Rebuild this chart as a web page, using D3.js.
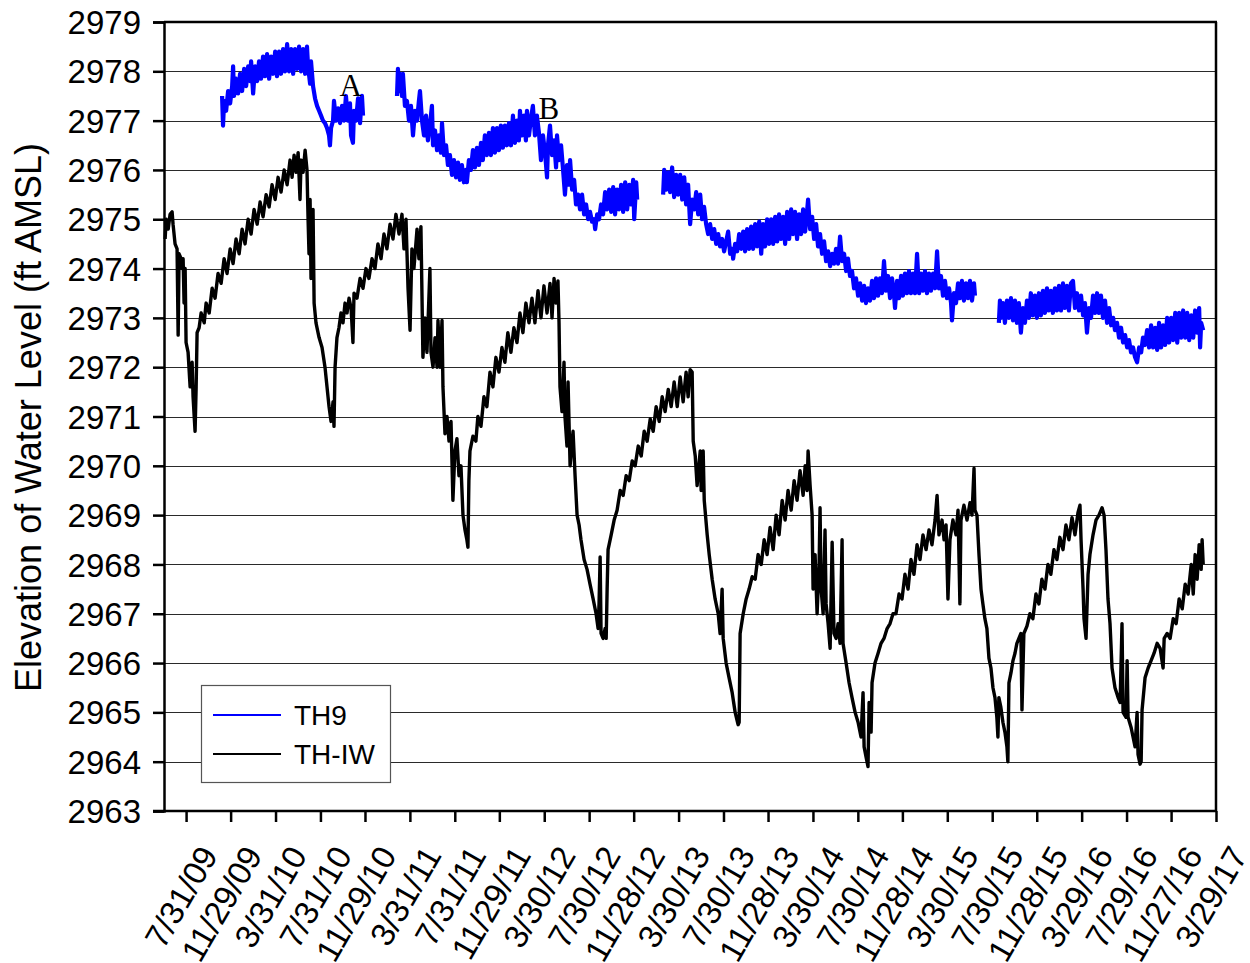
<!DOCTYPE html>
<html><head><meta charset="utf-8">
<script src="https://cdn.jsdelivr.net/npm/d3@7"></script>
<style>body{margin:0;background:#fff}</style></head>
<body>
<svg id="chart" width="1250" height="963"></svg>
<script>
// ---------- DATA ----------
const yTicks = d3.range(2963, 2980);
const xTickLabels = ["7/31/09","11/29/09","3/31/10","7/31/10","11/29/10","3/31/11","7/31/11","11/29/11","3/30/12","7/30/12","11/28/12","3/30/13","7/30/13","11/28/13","3/30/14","7/30/14","11/28/14","3/30/15","7/30/15","11/28/15","3/29/16","7/29/16","11/27/16","3/29/17"];
const seriesNames = ["TH9", "TH-IW"];
const annotations = [["A", 2010.72, 2977.5], ["B", 2012.20, 2977.03]];

// [decimal year, elevation ft AMSL]; null = no data
const th9 = [
[2009.846,2977.5],[2009.853,2976.9],[2009.861,2977.4],[2009.876,2977.2],[2009.891,2977.6],[2009.906,2977.35],[2009.921,2977.7],[2009.928,2978.1],[2009.935,2977.5],[2009.950,2977.85],[2009.965,2977.55],[2009.980,2977.95],[2009.995,2977.6],[2010.010,2978.05],[2010.025,2977.7],[2010.040,2978.1],[2010.055,2977.8],[2010.062,2978.2],[2010.077,2977.55],[2010.092,2978.1],[2010.107,2977.8],[2010.121,2978.2],[2010.136,2977.85],[2010.151,2978.3],[2010.166,2977.9],[2010.181,2978.35],[2010.196,2977.85],[2010.211,2978.3],[2010.226,2977.95],[2010.241,2978.4],[2010.255,2977.9],[2010.270,2978.4],[2010.285,2977.95],[2010.300,2978.45],[2010.315,2978.0],[2010.330,2978.55],[2010.345,2978.0],[2010.360,2978.45],[2010.375,2977.95],[2010.389,2978.45],[2010.404,2978.05],[2010.419,2978.5],[2010.434,2978.0],[2010.449,2978.45],[2010.464,2977.95],[2010.478,2978.5],[2010.486,2978.1],[2010.501,2977.75],[2010.508,2978.2],[2010.523,2977.7],[2010.538,2977.45],[2010.553,2977.3],[2010.568,2977.2],[2010.583,2977.1],[2010.597,2977.0],[2010.612,2976.95],[2010.627,2976.85],[2010.642,2976.7],[2010.649,2976.5],[2010.657,2976.85],[2010.672,2977.0],[2010.679,2977.4],[2010.694,2977.0],[2010.709,2977.25],[2010.724,2976.95],[2010.739,2977.3],[2010.754,2977.0],[2010.768,2977.5],[2010.783,2977.0],[2010.798,2977.35],[2010.806,2976.7],[2010.820,2976.55],[2010.828,2977.2],[2010.843,2977.0],[2010.858,2977.45],[2010.873,2976.95],[2010.887,2977.5],[2010.895,2977.1],
[2011.0,null],
[2011.148,2977.5],[2011.155,2978.05],[2011.163,2977.6],[2011.170,2977.95],[2011.185,2977.5],[2011.192,2977.95],[2011.207,2977.3],[2011.222,2977.4],[2011.237,2977.0],[2011.252,2977.3],[2011.267,2976.7],[2011.282,2977.2],[2011.297,2977.0],[2011.311,2977.4],[2011.319,2977.6],[2011.334,2977.0],[2011.349,2976.7],[2011.364,2977.1],[2011.378,2976.6],[2011.393,2976.9],[2011.408,2977.3],[2011.416,2976.5],[2011.431,2976.8],[2011.446,2976.4],[2011.460,2976.7],[2011.475,2976.35],[2011.483,2976.95],[2011.498,2976.3],[2011.513,2976.5],[2011.527,2976.1],[2011.542,2976.3],[2011.557,2975.9],[2011.572,2976.2],[2011.587,2975.85],[2011.602,2976.15],[2011.616,2975.8],[2011.631,2976.1],[2011.646,2975.75],[2011.661,2976.0],[2011.668,2975.75],[2011.683,2976.2],[2011.698,2976.0],[2011.713,2976.4],[2011.728,2976.05],[2011.743,2976.45],[2011.758,2976.1],[2011.773,2976.55],[2011.787,2976.2],[2011.802,2976.7],[2011.817,2976.3],[2011.832,2976.75],[2011.847,2976.3],[2011.862,2976.85],[2011.877,2976.35],[2011.892,2976.85],[2011.907,2976.4],[2011.921,2976.9],[2011.936,2976.45],[2011.951,2976.9],[2011.966,2976.5],[2011.981,2976.95],[2011.996,2976.5],[2012.011,2977.1],[2012.026,2976.55],[2012.041,2977.0],[2012.055,2976.6],[2012.063,2977.2],[2012.078,2976.7],[2012.093,2977.1],[2012.107,2976.6],[2012.115,2977.2],[2012.130,2976.7],[2012.145,2977.05],[2012.159,2977.3],[2012.174,2976.7],[2012.189,2977.1],[2012.204,2976.75],[2012.219,2976.2],[2012.234,2976.7],[2012.249,2976.35],[2012.264,2975.85],[2012.271,2976.5],[2012.286,2976.9],[2012.301,2976.3],[2012.316,2976.6],[2012.331,2976.05],[2012.338,2976.7],[2012.353,2976.2],[2012.368,2976.5],[2012.383,2976.0],[2012.397,2975.5],[2012.412,2976.1],[2012.427,2975.7],[2012.435,2976.2],[2012.450,2975.6],[2012.465,2975.8],[2012.479,2975.3],[2012.494,2975.5],[2012.509,2975.2],[2012.524,2975.5],[2012.539,2975.1],[2012.554,2975.3],[2012.569,2975.0],[2012.583,2975.15],[2012.598,2974.95],[2012.613,2975.0],[2012.621,2974.8],[2012.636,2975.1],[2012.650,2975.0],[2012.665,2975.3],[2012.680,2975.1],[2012.695,2975.55],[2012.710,2975.2],[2012.725,2975.6],[2012.740,2975.15],[2012.755,2975.65],[2012.769,2975.1],[2012.784,2975.6],[2012.799,2975.2],[2012.814,2975.7],[2012.829,2975.15],[2012.844,2975.75],[2012.859,2975.2],[2012.874,2975.7],[2012.888,2975.3],[2012.903,2975.8],[2012.911,2975.0],[2012.926,2975.75],[2012.933,2975.4],
[2013.03,null],
[2013.126,2975.5],[2013.134,2976.0],[2013.149,2975.6],[2013.164,2975.95],[2013.178,2975.55],[2013.193,2976.05],[2013.208,2975.45],[2013.223,2975.9],[2013.238,2975.5],[2013.253,2975.9],[2013.268,2975.4],[2013.283,2975.85],[2013.297,2975.3],[2013.312,2975.7],[2013.327,2974.9],[2013.342,2975.4],[2013.357,2975.2],[2013.372,2975.55],[2013.387,2975.1],[2013.402,2975.5],[2013.416,2975.0],[2013.431,2975.25],[2013.446,2974.9],[2013.461,2974.7],[2013.476,2974.9],[2013.491,2974.6],[2013.506,2974.8],[2013.521,2974.5],[2013.536,2974.7],[2013.550,2974.45],[2013.565,2974.6],[2013.580,2974.35],[2013.595,2974.55],[2013.610,2974.75],[2013.625,2974.3],[2013.640,2974.4],[2013.647,2974.2],[2013.662,2974.5],[2013.677,2974.35],[2013.692,2974.7],[2013.707,2974.4],[2013.722,2974.75],[2013.736,2974.35],[2013.751,2974.8],[2013.766,2974.4],[2013.781,2974.85],[2013.796,2974.4],[2013.811,2974.9],[2013.826,2974.45],[2013.841,2974.95],[2013.856,2974.3],[2013.870,2974.9],[2013.885,2974.45],[2013.900,2975.0],[2013.915,2974.5],[2013.930,2975.0],[2013.945,2974.5],[2013.960,2975.05],[2013.975,2974.55],[2013.989,2975.1],[2014.004,2974.6],[2014.019,2975.05],[2014.034,2974.5],[2014.049,2975.15],[2014.064,2974.6],[2014.079,2975.2],[2014.093,2974.7],[2014.108,2975.15],[2014.123,2974.6],[2014.138,2975.1],[2014.153,2974.7],[2014.168,2975.2],[2014.183,2974.75],[2014.197,2975.15],[2014.205,2975.4],[2014.220,2974.8],[2014.235,2975.05],[2014.250,2974.6],[2014.265,2974.9],[2014.279,2974.45],[2014.294,2974.7],[2014.309,2974.3],[2014.324,2974.55],[2014.339,2974.15],[2014.354,2974.35],[2014.369,2974.05],[2014.384,2974.3],[2014.398,2974.1],[2014.413,2974.4],[2014.428,2974.1],[2014.443,2974.65],[2014.458,2974.15],[2014.473,2974.3],[2014.488,2973.95],[2014.502,2974.2],[2014.517,2973.85],[2014.532,2973.95],[2014.547,2973.6],[2014.562,2973.8],[2014.577,2973.45],[2014.592,2973.7],[2014.607,2973.35],[2014.622,2973.65],[2014.636,2973.3],[2014.651,2973.6],[2014.666,2973.35],[2014.681,2973.75],[2014.696,2973.4],[2014.711,2973.8],[2014.726,2973.45],[2014.740,2973.8],[2014.755,2973.5],[2014.770,2974.15],[2014.785,2973.55],[2014.800,2973.85],[2014.815,2973.4],[2014.830,2973.8],[2014.845,2973.45],[2014.852,2973.2],[2014.867,2973.75],[2014.882,2973.4],[2014.897,2973.85],[2014.911,2973.45],[2014.926,2973.9],[2014.941,2973.5],[2014.956,2973.95],[2014.971,2973.5],[2014.986,2973.9],[2015.001,2973.5],[2015.016,2974.3],[2015.031,2973.5],[2015.045,2973.9],[2015.060,2973.55],[2015.075,2973.95],[2015.090,2973.5],[2015.105,2973.9],[2015.120,2973.55],[2015.135,2973.9],[2015.150,2973.6],[2015.165,2974.35],[2015.179,2973.6],[2015.194,2973.85],[2015.209,2973.45],[2015.224,2973.75],[2015.239,2973.4],[2015.254,2973.6],[2015.269,2973.3],[2015.276,2972.95],[2015.291,2973.5],[2015.306,2973.3],[2015.321,2973.7],[2015.335,2973.4],[2015.350,2973.75],[2015.365,2973.35],[2015.380,2973.7],[2015.395,2973.4],[2015.410,2973.75],[2015.425,2973.35],[2015.440,2973.7],[2015.447,2973.45],
[2015.53,null],
[2015.625,2972.9],[2015.633,2973.35],[2015.640,2973.0],[2015.655,2973.3],[2015.670,2972.9],[2015.685,2973.35],[2015.700,2973.0],[2015.715,2973.4],[2015.730,2972.95],[2015.745,2973.35],[2015.759,2972.9],[2015.774,2973.3],[2015.789,2972.7],[2015.804,2973.2],[2015.819,2972.9],[2015.834,2973.35],[2015.849,2973.0],[2015.863,2973.5],[2015.878,2973.05],[2015.893,2973.45],[2015.908,2973.0],[2015.923,2973.5],[2015.938,2973.05],[2015.953,2973.55],[2015.968,2973.1],[2015.983,2973.6],[2015.997,2973.15],[2016.012,2973.55],[2016.027,2973.1],[2016.042,2973.6],[2016.057,2973.15],[2016.072,2973.65],[2016.087,2973.15],[2016.102,2973.7],[2016.116,2973.2],[2016.131,2973.65],[2016.146,2973.15],[2016.161,2973.7],[2016.176,2973.75],[2016.191,2973.2],[2016.206,2973.5],[2016.221,2973.15],[2016.236,2973.45],[2016.251,2973.05],[2016.265,2973.3],[2016.280,2972.7],[2016.295,2973.2],[2016.310,2973.0],[2016.325,2973.45],[2016.340,2973.1],[2016.355,2973.5],[2016.369,2973.1],[2016.384,2973.45],[2016.399,2973.0],[2016.414,2973.35],[2016.429,2972.9],[2016.444,2973.2],[2016.459,2972.85],[2016.474,2973.0],[2016.488,2972.75],[2016.503,2972.9],[2016.518,2972.6],[2016.533,2972.8],[2016.548,2972.5],[2016.563,2972.65],[2016.578,2972.4],[2016.592,2972.55],[2016.607,2972.3],[2016.622,2972.4],[2016.637,2972.2],[2016.652,2972.1],[2016.667,2972.4],[2016.682,2972.3],[2016.696,2972.6],[2016.711,2972.45],[2016.726,2972.75],[2016.741,2972.4],[2016.756,2972.85],[2016.771,2972.4],[2016.786,2972.8],[2016.801,2972.35],[2016.815,2972.9],[2016.830,2972.4],[2016.845,2972.85],[2016.860,2972.45],[2016.875,2973.0],[2016.890,2972.5],[2016.905,2973.0],[2016.920,2972.55],[2016.935,2973.1],[2016.950,2972.5],[2016.964,2973.1],[2016.979,2972.6],[2016.994,2973.15],[2017.009,2972.6],[2017.024,2973.1],[2017.039,2972.55],[2017.054,2973.05],[2017.069,2972.6],[2017.083,2973.15],[2017.098,2972.7],[2017.113,2973.2],[2017.120,2972.4],[2017.128,2972.9],[2017.143,2972.75]
];

const thiw = [
[2009.422,2974.6],[2009.430,2975.0],[2009.445,2974.8],[2009.459,2975.1],[2009.474,2975.15],[2009.481,2974.9],[2009.496,2974.5],[2009.511,2974.4],[2009.519,2972.65],[2009.526,2974.3],[2009.541,2974.2],[2009.549,2974.0],[2009.556,2974.2],[2009.563,2973.3],[2009.571,2974.0],[2009.578,2972.5],[2009.593,2972.3],[2009.608,2971.6],[2009.623,2972.1],[2009.630,2971.4],[2009.645,2970.7],[2009.653,2971.6],[2009.660,2972.7],[2009.675,2972.8],[2009.690,2973.1],[2009.713,2972.9],[2009.727,2973.3],[2009.750,2973.1],[2009.772,2973.6],[2009.794,2973.4],[2009.816,2973.9],[2009.839,2973.7],[2009.861,2974.2],[2009.883,2973.9],[2009.906,2974.4],[2009.928,2974.1],[2009.950,2974.6],[2009.973,2974.3],[2009.995,2974.8],[2010.017,2974.5],[2010.040,2975.0],[2010.062,2974.7],[2010.084,2975.2],[2010.107,2974.9],[2010.129,2975.35],[2010.151,2975.05],[2010.174,2975.5],[2010.196,2975.25],[2010.218,2975.7],[2010.241,2975.4],[2010.263,2975.85],[2010.285,2975.55],[2010.308,2976.0],[2010.330,2975.7],[2010.352,2976.2],[2010.367,2975.85],[2010.382,2976.3],[2010.397,2975.95],[2010.412,2976.35],[2010.426,2975.4],[2010.434,2976.2],[2010.449,2975.95],[2010.464,2976.4],[2010.478,2976.0],[2010.486,2975.0],[2010.493,2974.3],[2010.501,2975.4],[2010.508,2973.8],[2010.523,2975.2],[2010.531,2973.3],[2010.545,2972.9],[2010.568,2972.6],[2010.590,2972.4],[2010.612,2972.0],[2010.627,2971.6],[2010.642,2971.2],[2010.657,2970.9],[2010.672,2971.3],[2010.679,2970.8],[2010.687,2972.0],[2010.701,2972.6],[2010.716,2972.8],[2010.731,2973.1],[2010.746,2972.9],[2010.761,2973.3],[2010.776,2973.1],[2010.791,2973.4],[2010.806,2973.2],[2010.820,2972.5],[2010.828,2973.5],[2010.850,2973.4],[2010.873,2973.8],[2010.895,2973.6],[2010.917,2974.0],[2010.939,2973.8],[2010.962,2974.2],[2010.984,2974.0],[2011.006,2974.5],[2011.029,2974.2],[2011.051,2974.7],[2011.073,2974.4],[2011.096,2974.9],[2011.118,2974.6],[2011.140,2975.1],[2011.163,2974.7],[2011.185,2975.1],[2011.200,2974.4],[2011.215,2975.0],[2011.230,2973.6],[2011.245,2972.75],[2011.259,2974.4],[2011.274,2974.0],[2011.297,2974.8],[2011.311,2974.2],[2011.326,2974.85],[2011.341,2972.2],[2011.356,2973.0],[2011.371,2972.3],[2011.393,2974.0],[2011.401,2972.3],[2011.416,2972.0],[2011.431,2972.6],[2011.446,2972.0],[2011.453,2972.95],[2011.468,2972.0],[2011.483,2972.95],[2011.490,2971.6],[2011.505,2970.65],[2011.520,2971.0],[2011.535,2970.5],[2011.550,2970.9],[2011.564,2969.3],[2011.579,2970.3],[2011.594,2970.55],[2011.609,2969.8],[2011.624,2970.0],[2011.639,2969.0],[2011.654,2968.7],[2011.668,2968.5],[2011.676,2968.35],[2011.683,2969.7],[2011.691,2970.3],[2011.713,2970.6],[2011.735,2970.5],[2011.750,2971.0],[2011.773,2970.8],[2011.795,2971.4],[2011.817,2971.2],[2011.840,2971.9],[2011.862,2971.6],[2011.884,2972.2],[2011.907,2971.9],[2011.929,2972.4],[2011.951,2972.1],[2011.973,2972.7],[2011.996,2972.3],[2012.018,2972.8],[2012.041,2972.5],[2012.063,2973.1],[2012.085,2972.7],[2012.107,2973.3],[2012.130,2972.9],[2012.152,2973.4],[2012.174,2972.9],[2012.197,2973.55],[2012.219,2973.0],[2012.241,2973.65],[2012.264,2973.1],[2012.286,2973.7],[2012.301,2973.0],[2012.316,2973.8],[2012.331,2973.3],[2012.345,2973.75],[2012.353,2972.9],[2012.360,2971.6],[2012.375,2971.1],[2012.390,2972.1],[2012.397,2971.0],[2012.412,2970.4],[2012.420,2971.7],[2012.435,2970.0],[2012.450,2970.5],[2012.457,2970.7],[2012.472,2969.8],[2012.487,2969.0],[2012.502,2968.8],[2012.516,2968.5],[2012.539,2968.1],[2012.561,2967.9],[2012.583,2967.6],[2012.606,2967.3],[2012.628,2967.0],[2012.643,2966.7],[2012.650,2967.2],[2012.658,2968.15],[2012.665,2966.6],[2012.680,2966.5],[2012.695,2966.7],[2012.703,2966.5],[2012.710,2967.5],[2012.717,2968.3],[2012.740,2968.6],[2012.762,2968.9],[2012.784,2969.1],[2012.807,2969.5],[2012.829,2969.4],[2012.851,2969.8],[2012.874,2969.7],[2012.896,2970.1],[2012.918,2970.0],[2012.941,2970.4],[2012.963,2970.2],[2012.985,2970.7],[2013.007,2970.5],[2013.030,2970.95],[2013.052,2970.7],[2013.074,2971.2],[2013.097,2970.9],[2013.119,2971.4],[2013.141,2971.1],[2013.164,2971.55],[2013.186,2971.2],[2013.208,2971.7],[2013.231,2971.2],[2013.253,2971.8],[2013.275,2971.3],[2013.297,2971.9],[2013.312,2971.4],[2013.327,2971.95],[2013.342,2971.9],[2013.350,2970.5],[2013.365,2970.2],[2013.379,2969.6],[2013.402,2970.3],[2013.409,2969.5],[2013.424,2970.3],[2013.432,2969.3],[2013.454,2968.6],[2013.469,2968.2],[2013.491,2967.7],[2013.513,2967.3],[2013.536,2967.0],[2013.550,2966.6],[2013.565,2967.5],[2013.573,2966.5],[2013.595,2966.0],[2013.617,2965.7],[2013.640,2965.4],[2013.662,2965.0],[2013.684,2964.75],[2013.692,2964.8],[2013.699,2966.6],[2013.722,2967.0],[2013.744,2967.3],[2013.766,2967.5],[2013.789,2967.75],[2013.811,2967.7],[2013.833,2968.2],[2013.856,2968.0],[2013.878,2968.5],[2013.900,2968.2],[2013.922,2968.75],[2013.945,2968.3],[2013.967,2969.0],[2013.989,2968.6],[2014.012,2969.3],[2014.034,2968.9],[2014.056,2969.5],[2014.079,2969.1],[2014.101,2969.7],[2014.123,2969.3],[2014.145,2969.9],[2014.168,2969.4],[2014.183,2970.0],[2014.197,2969.5],[2014.205,2970.3],[2014.220,2969.6],[2014.235,2969.0],[2014.242,2967.5],[2014.257,2968.2],[2014.272,2967.0],[2014.287,2968.0],[2014.294,2969.15],[2014.302,2967.5],[2014.317,2967.0],[2014.331,2968.7],[2014.339,2967.2],[2014.354,2966.8],[2014.369,2966.3],[2014.384,2968.45],[2014.398,2966.6],[2014.413,2966.5],[2014.428,2966.8],[2014.443,2966.4],[2014.458,2968.5],[2014.465,2966.4],[2014.488,2966.0],[2014.510,2965.6],[2014.532,2965.3],[2014.555,2965.0],[2014.577,2964.8],[2014.599,2964.5],[2014.614,2965.4],[2014.622,2964.3],[2014.636,2964.1],[2014.651,2963.9],[2014.659,2965.2],[2014.674,2964.6],[2014.681,2965.6],[2014.703,2966.0],[2014.726,2966.2],[2014.748,2966.4],[2014.770,2966.5],[2014.793,2966.7],[2014.815,2966.8],[2014.837,2967.0],[2014.859,2967.0],[2014.882,2967.4],[2014.904,2967.3],[2014.926,2967.8],[2014.949,2967.5],[2014.971,2968.1],[2014.993,2967.8],[2015.016,2968.4],[2015.038,2968.1],[2015.060,2968.6],[2015.083,2968.3],[2015.105,2968.7],[2015.127,2968.4],[2015.150,2968.9],[2015.165,2969.4],[2015.179,2968.6],[2015.202,2968.9],[2015.217,2968.5],[2015.232,2968.8],[2015.246,2967.3],[2015.261,2968.5],[2015.283,2968.9],[2015.306,2968.6],[2015.321,2969.1],[2015.335,2967.2],[2015.343,2968.9],[2015.365,2969.2],[2015.388,2968.9],[2015.410,2969.25],[2015.425,2969.0],[2015.440,2969.95],[2015.447,2969.1],[2015.462,2969.0],[2015.477,2968.2],[2015.492,2967.5],[2015.506,2967.2],[2015.521,2966.9],[2015.536,2966.7],[2015.551,2966.1],[2015.566,2965.9],[2015.581,2965.5],[2015.596,2965.3],[2015.610,2964.9],[2015.618,2964.5],[2015.625,2965.3],[2015.640,2965.1],[2015.655,2964.8],[2015.670,2964.6],[2015.685,2964.3],[2015.692,2964.0],[2015.700,2965.6],[2015.715,2965.8],[2015.730,2966.05],[2015.745,2966.2],[2015.759,2966.4],[2015.774,2966.5],[2015.789,2966.6],[2015.797,2965.05],[2015.811,2966.6],[2015.834,2966.75],[2015.856,2967.0],[2015.878,2966.9],[2015.901,2967.4],[2015.923,2967.2],[2015.945,2967.7],[2015.968,2967.5],[2015.990,2968.0],[2016.012,2967.8],[2016.035,2968.3],[2016.057,2968.1],[2016.079,2968.55],[2016.102,2968.3],[2016.124,2968.8],[2016.146,2968.5],[2016.169,2968.95],[2016.191,2968.6],[2016.213,2969.05],[2016.228,2969.2],[2016.236,2968.5],[2016.251,2967.5],[2016.258,2966.9],[2016.273,2966.5],[2016.288,2967.8],[2016.302,2968.2],[2016.325,2968.6],[2016.347,2968.9],[2016.369,2969.0],[2016.392,2969.15],[2016.407,2969.0],[2016.421,2968.3],[2016.436,2967.3],[2016.451,2966.8],[2016.466,2965.9],[2016.488,2965.5],[2016.511,2965.3],[2016.526,2965.2],[2016.540,2966.8],[2016.548,2965.0],[2016.570,2964.9],[2016.578,2966.05],[2016.585,2964.9],[2016.607,2964.7],[2016.622,2964.5],[2016.637,2964.3],[2016.652,2965.0],[2016.659,2964.15],[2016.674,2963.95],[2016.682,2964.0],[2016.689,2965.05],[2016.711,2965.7],[2016.734,2965.9],[2016.756,2966.05],[2016.778,2966.2],[2016.801,2966.4],[2016.823,2966.3],[2016.845,2965.9],[2016.853,2966.5],[2016.875,2966.6],[2016.897,2966.5],[2016.920,2966.9],[2016.942,2966.8],[2016.964,2967.3],[2016.987,2967.1],[2017.009,2967.6],[2017.031,2967.4],[2017.054,2968.0],[2017.069,2967.4],[2017.083,2968.2],[2017.098,2967.7],[2017.113,2968.4],[2017.128,2967.9],[2017.135,2968.5],[2017.143,2968.0]
];

// ---------- CHART ----------
const W = 1250, H = 963;
const M = {left: 164, right: 1216, top: 22, bottom: 811};
const FONT = "'Liberation Sans', Arial, sans-serif";

function decYear(y) {
  const yr = Math.floor(y);
  const a = Date.UTC(yr, 0, 1), b = Date.UTC(yr + 1, 0, 1);
  return new Date(a + (y - yr) * (b - a));
}
const parseTick = d3.utcParse("%m/%d/%y");
const tickDates = xTickLabels.map(parseTick);

const x = d3.scaleUtc()
  .domain([new Date(Date.UTC(2009, 5, 1)), tickDates[tickDates.length - 1]])
  .range([M.left, M.right]);
const y = d3.scaleLinear().domain([2963, 2979]).range([M.bottom, M.top]);

const svg = d3.select("#chart");
svg.append("rect").attr("width", W).attr("height", H).attr("fill", "#fff");

// gridlines
svg.append("g").selectAll("line").data(yTicks.slice(1, -1)).join("line")
  .attr("x1", M.left).attr("x2", M.right)
  .attr("y1", d => Math.round(y(d)) + 0.5).attr("y2", d => Math.round(y(d)) + 0.5)
  .attr("stroke", "#2a2a2a").attr("stroke-width", 1.2);

// data lines
const line = d3.line()
  .defined(d => d[1] != null)
  .x(d => x(decYear(d[0])))
  .y(d => y(d[1]));

svg.append("path").datum(thiw)
  .attr("d", line).attr("fill", "none").attr("stroke", "#000")
  .attr("stroke-width", 3.4).attr("stroke-linejoin", "round");
svg.append("path").datum(th9)
  .attr("d", line).attr("fill", "none").attr("stroke", "#0000ff")
  .attr("stroke-width", 4.2).attr("stroke-linejoin", "round");

// frame: top and right borders
svg.append("line").attr("x1", M.left).attr("x2", M.right + 1)
  .attr("y1", M.top).attr("y2", M.top).attr("stroke", "#000").attr("stroke-width", 2.5);
svg.append("line").attr("x1", M.right).attr("x2", M.right)
  .attr("y1", M.top).attr("y2", M.bottom).attr("stroke", "#000").attr("stroke-width", 2.5);

// y axis
const yAxis = d3.axisLeft(y).tickValues(yTicks).tickSize(11).tickPadding(6)
  .tickFormat(d3.format("d"));
const gy = svg.append("g").attr("transform", `translate(${M.left},0)`).call(yAxis);
gy.select(".domain").attr("stroke", "#000").attr("stroke-width", 2.5);
gy.selectAll(".tick line").attr("stroke", "#000").attr("stroke-width", 2.5);
gy.selectAll(".tick text").attr("font-family", FONT).attr("font-size", 33)
  .attr("fill", "#000").attr("dy", "0.35em").attr("x", -23);

// x axis
const xAxis = d3.axisBottom(x).tickValues(tickDates).tickSize(11)
  .tickFormat((d, i) => xTickLabels[i]);
const gx = svg.append("g").attr("transform", `translate(0,${M.bottom})`).call(xAxis);
gx.select(".domain").attr("stroke", "#000").attr("stroke-width", 2.5)
  .attr("d", `M${M.left - 11},0H${M.right}`);
gx.selectAll(".tick line").attr("stroke", "#000").attr("stroke-width", 2.5);
gx.selectAll(".tick text")
  .attr("font-family", FONT).attr("font-size", 33).attr("fill", "#000")
  .attr("text-anchor", "end").attr("y", 0).attr("dy", null)
  .attr("transform", "translate(32,44) rotate(-60)");

// y title
svg.append("text")
  .attr("transform", `translate(41,${(M.top + M.bottom) / 2 + 1}) rotate(-90)`)
  .attr("text-anchor", "middle").attr("font-family", FONT).attr("font-size", 36)
  .attr("fill", "#000").text("Elevation of Water Level (ft AMSL)");

// annotations
svg.append("g").selectAll("text").data(annotations).join("text")
  .attr("x", d => x(decYear(d[1]))).attr("y", d => y(d[2]))
  .attr("font-family", "'Liberation Serif', 'Times New Roman', serif")
  .attr("font-size", 31).attr("fill", "#000").text(d => d[0]);

// legend
const lg = svg.append("g").attr("transform", "translate(201,685)");
lg.append("rect").attr("x", 0.5).attr("y", 0.5).attr("width", 189).attr("height", 97)
  .attr("fill", "#fff").attr("stroke", "#555").attr("stroke-width", 1.2);
const legColors = ["#0000ff", "#000"];
seriesNames.forEach((name, i) => {
  const yy = 30 + i * 39;
  lg.append("line").attr("x1", 12).attr("x2", 80).attr("y1", yy).attr("y2", yy)
    .attr("stroke", legColors[i]).attr("stroke-width", 2.2);
  lg.append("text").attr("x", 93).attr("y", yy + 10).attr("font-family", FONT)
    .attr("font-size", 28).attr("fill", "#000").text(name);
});
</script>
</body></html>
